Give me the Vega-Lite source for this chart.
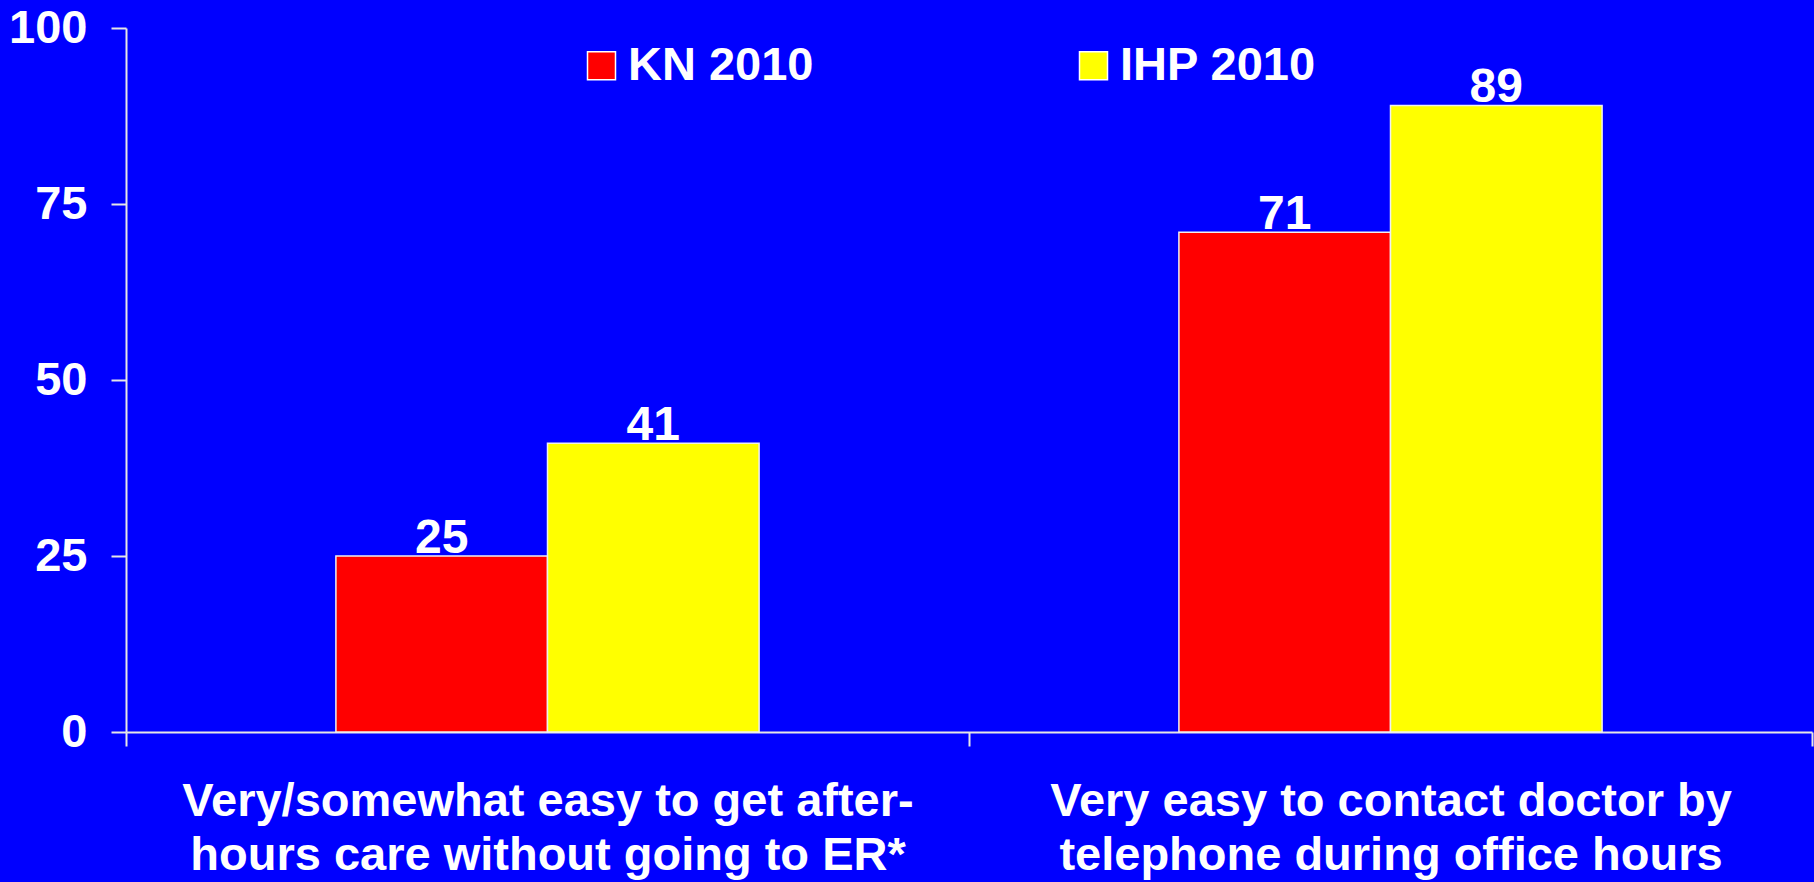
{
  "$schema": "https://vega.github.io/schema/vega-lite/v6.json",
  "width": 1686,
  "height": 704,
  "autosize": {"type": "none"},
  "padding": {"left": 126, "top": 28, "right": 2, "bottom": 150},
  "background": "#0000FF",
  "config": {
    "view": {"stroke": null},
    "font": "Liberation Sans"
  },
  "data": {
    "values": [
      {"category": "Very/somewhat easy to get after-|hours care without going to ER*", "series": "KN 2010", "value": 25},
      {"category": "Very/somewhat easy to get after-|hours care without going to ER*", "series": "IHP 2010", "value": 41},
      {"category": "Very easy to contact doctor by|telephone during office hours", "series": "KN 2010", "value": 71},
      {"category": "Very easy to contact doctor by|telephone during office hours", "series": "IHP 2010", "value": 89}
    ]
  },
  "encoding": {
    "x": {
      "field": "category",
      "type": "nominal",
      "sort": null,
      "scale": {"paddingInner": 0, "paddingOuter": 0},
      "axis": {
        "title": null,
        "labelAngle": 0,
        "labelExpr": "split(datum.label, '|')",
        "labelFont": "Liberation Sans",
        "labelFontWeight": "bold",
        "labelFontSize": 47,
        "labelColor": "#FFFFFF",
        "labelLineHeight": 54,
        "labelPadding": 32,
        "labelBaseline": "top",
        "tickBand": "extent",
        "tickSize": 14,
        "tickColor": "#E6E6E6",
        "tickWidth": 2,
        "domainColor": "#E6E6E6",
        "domainWidth": 2,
        "labelLimit": 0
      }
    },
    "xOffset": {
      "field": "series",
      "type": "nominal",
      "sort": ["KN 2010", "IHP 2010"],
      "scale": {"paddingInner": 0, "paddingOuter": 0.992}
    },
    "y": {
      "field": "value",
      "type": "quantitative",
      "scale": {"domain": [0, 100]},
      "axis": {
        "title": null,
        "values": [0, 25, 50, 75, 100],
        "grid": false,
        "labelFont": "Liberation Sans",
        "labelFontWeight": "bold",
        "labelFontSize": 47,
        "labelColor": "#FFFFFF",
        "labelPadding": 24,
        "tickSize": 15,
        "tickColor": "#E6E6E6",
        "tickWidth": 2,
        "domainColor": "#E6E6E6",
        "domainWidth": 2
      }
    }
  },
  "layer": [
    {
      "mark": {"type": "bar", "stroke": "#F0F0F0", "strokeWidth": 1.5},
      "encoding": {
        "color": {
          "field": "series",
          "type": "nominal",
          "sort": ["KN 2010", "IHP 2010"],
          "scale": {"domain": ["KN 2010", "IHP 2010"], "range": ["#FF0000", "#FFFF00"]},
          "legend": {
            "title": null,
            "orient": "none",
            "direction": "horizontal",
            "legendX": 452,
            "legendY": 14,
            "padding": 0,
            "symbolType": "square",
            "symbolSize": 784,
            "symbolStrokeColor": "#FFFFFF",
            "symbolStrokeWidth": 1.5,
            "symbolOpacity": 1,
            "labelFont": "Liberation Sans",
            "labelFontWeight": "bold",
            "labelFontSize": 47,
            "labelColor": "#FFFFFF",
            "labelOffset": 3,
            "labelLimit": 0,
            "columnPadding": 256
          }
        }
      }
    },
    {
      "mark": {
        "type": "text",
        "baseline": "alphabetic",
        "dy": -3,
        "font": "Liberation Sans",
        "fontWeight": "bold",
        "fontSize": 48,
        "color": "#FFFFFF"
      },
      "encoding": {
        "text": {"field": "value", "type": "quantitative"}
      }
    }
  ]
}
